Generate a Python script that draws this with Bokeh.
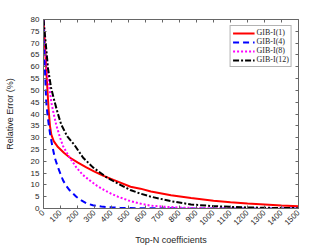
from bokeh.plotting import figure
from bokeh.models import LinearAxis, FixedTicker, Range1d, Legend, LegendItem, CustomJSTickFormatter
from bokeh.embed import file_html
from bokeh.resources import INLINE
import math

# ---- data ----
x_ticks = list(range(0, 1501, 100))
y_ticks = list(range(0, 81, 5))

x_r1 = [0, 10, 20, 30, 38, 46, 60, 85, 120, 154, 200, 252, 300, 350, 419, 512, 570, 632, 750, 868, 1000, 1100, 1200, 1300, 1400, 1500]
y_r1 = [80, 67, 54, 42, 35, 31.3, 28.5, 26, 23.6, 21.6, 19.5, 17.4, 15.6, 13.9, 11.9, 9.2, 8.4, 7.2, 5.6, 4.4, 3.3, 2.6, 2.1, 1.7, 1.3, 1.0]

x_r4 = [0, 4, 8, 16, 23, 31, 40, 52, 66, 85, 115, 135, 154, 193, 220, 252, 290, 340, 400, 450, 500, 600, 800, 1500]
y_r4 = [80, 70, 60, 45, 40, 35.4, 31, 26.4, 21.6, 17.4, 11.9, 9.5, 7.7, 5.0, 3.5, 2.2, 1.4, 0.8, 0.5, 0.3, 0.2, 0.1, 0.05, 0.02]

x_r8 = [0, 10, 21, 33, 46, 60, 75, 95, 115, 135, 154, 193, 230, 272, 315, 360, 400, 438, 500, 560, 632, 700, 800, 900, 1000, 1200, 1500]
y_r8 = [80, 70, 59, 52, 45, 40, 35.4, 30.5, 26.4, 23.8, 21.6, 17.4, 14.3, 11.9, 9.6, 7.7, 6.2, 5.0, 3.4, 2.2, 1.2, 0.8, 0.4, 0.2, 0.1, 0.05, 0.02]

x_r12 = [0, 13, 27, 45, 66, 85, 105, 140, 183, 232, 291, 369, 438, 515, 570, 632, 750, 868, 1000, 1100, 1200, 1300, 1400, 1500]
y_r12 = [80, 70, 59, 51, 45, 40, 35.4, 30.5, 26.8, 21.6, 17.4, 13.3, 10.5, 7.7, 6.3, 5.0, 3.1, 1.7, 1.0, 0.7, 0.45, 0.3, 0.2, 0.15]

names = ["GIB-I(1)", "GIB-I(4)", "GIB-I(8)", "GIB-I(12)"]

AX = "#666666"
TXT = "#262626"

p = figure(width=329, height=247, output_backend="svg", toolbar_location=None,
           x_range=Range1d(0, 1500), y_range=Range1d(0, 80),
           min_border_left=43, min_border_right=31, min_border_top=19, min_border_bottom=35)
p.outline_line_color = None
p.xgrid.visible = False
p.ygrid.visible = False
p.background_fill_color = "white"
p.border_fill_color = "white"

def style_axis(ax, ticks, labels=True):
    ax.ticker = FixedTicker(ticks=ticks)
    ax.axis_line_color = AX
    ax.major_tick_line_color = AX
    ax.major_tick_in = 3
    ax.major_tick_out = 0
    ax.minor_tick_line_color = None
    ax.major_label_text_font = "Liberation Sans"
    ax.major_label_text_font_size = "8px"
    ax.major_label_text_color = TXT
    ax.major_label_standoff = 4
    if not labels:
        ax.formatter = CustomJSTickFormatter(code="return ''")
        ax.major_label_standoff = 0

style_axis(p.xaxis[0], x_ticks)
style_axis(p.yaxis[0], y_ticks)
p.xaxis[0].major_label_orientation = math.pi / 4
p.xaxis[0].major_label_standoff = 3
p.xaxis[0].axis_label = "Top-N coefficients"
p.yaxis[0].axis_label = "Relative Error (%)"
for ax in (p.xaxis[0], p.yaxis[0]):
    ax.axis_label_text_font = "Liberation Sans"
    ax.axis_label_text_font_size = "9px"
    ax.axis_label_text_font_style = "normal"
    ax.axis_label_text_color = TXT
p.xaxis[0].axis_label_standoff = 4
p.yaxis[0].axis_label_standoff = 13

top = LinearAxis()
style_axis(top, x_ticks, labels=False)
right = LinearAxis()
style_axis(right, y_ticks, labels=False)
p.add_layout(top, "above")
p.add_layout(right, "right")

r1 = p.line(x_r1, y_r1, line_color="red", line_width=2)
r4 = p.line(x_r4, y_r4, line_color="blue", line_width=2, line_dash="6 4")
r8 = p.line(x_r8, y_r8, line_color="magenta", line_width=2, line_dash="2 2")
r12 = p.line(x_r12, y_r12, line_color="black", line_width=2, line_dash="6 2 2 2")

legend = Legend(items=[LegendItem(label=n, renderers=[r]) for n, r in zip(names, [r1, r4, r8, r12])],
                location="top_right")
legend.label_text_font = "Liberation Serif"
legend.label_text_font_size = "8px"
legend.label_text_color = TXT
legend.label_standoff = 2
legend.label_height = 8
legend.glyph_width = 22
legend.glyph_height = 8
legend.spacing = 0
legend.padding = 2
legend.margin = 6
legend.border_line_color = AX
legend.border_line_width = 1
p.add_layout(legend)

open("out.html", "w").write(file_html(p, INLINE))
